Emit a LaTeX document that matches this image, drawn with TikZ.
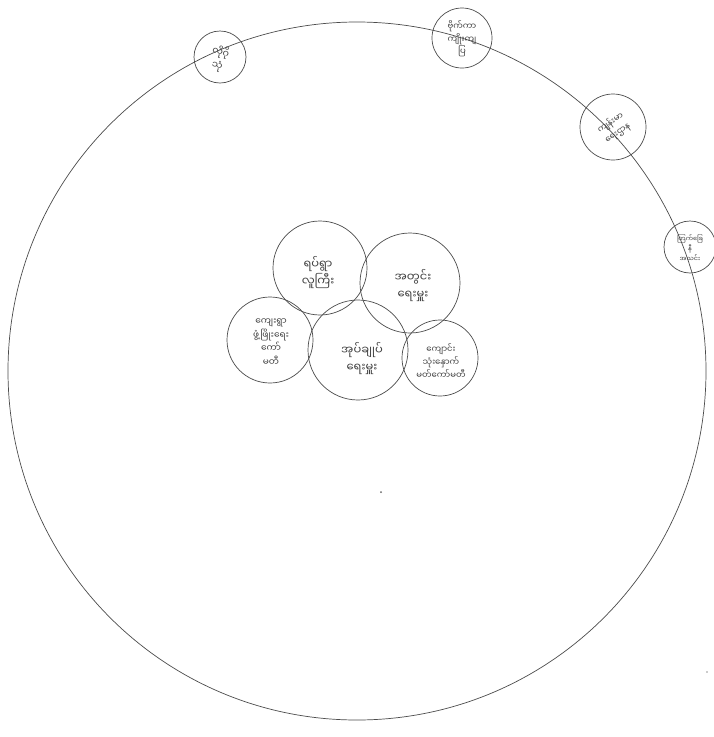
\documentclass[tikz,border=0pt]{standalone}
\usepackage{fontspec}
\newfontfamily\mmfont[Script=Myanmar]{Noto Sans Myanmar UI}
\begin{document}
\begin{tikzpicture}[x=1pt,y=-1pt,
  ring/.style={circle,draw=black!70,line width=0.7pt,inner sep=0pt},
  lbl/.style={font=\mmfont\fontsize{11.5}{17}\selectfont,text=black!75,align=center,inner sep=0pt},
  slbl/.style={font=\mmfont\fontsize{8.5}{12.5}\selectfont,text=black!75,align=center,inner sep=0pt}]
\useasboundingbox (0,0) rectangle (713,737);
\fill[white] (0,0) rectangle (713,737);
% big community circle
\node[ring,minimum size=698pt] (big) at (357,371) {};
% inner circles
\node[ring,minimum size=94pt] (ca) at (320,268) {};
\node[ring,minimum size=100pt] (cb) at (410,283) {};
\node[ring,minimum size=86pt] (cc) at (270,340) {};
\node[ring,minimum size=100pt] (cd) at (358,350) {};
\node[ring,minimum size=76pt] (ce) at (440,358) {};
\node[lbl] (ta) at (318,273) {ရပ်ရွာ\\လူကြီး};
\node[lbl] (tb) at (413,286) {အတွင်း\\ရေးမှူး};
\node[lbl,font=\mmfont\fontsize{9}{13.5}\selectfont] (tc) at (271,342) {ကျေးရွာ\\ဖွံ့ဖြိုးရေး\\ကော်\\မတီ};
\node[lbl] (td) at (362,359) {အုပ်ချုပ်\\ရေးမှူး};
\node[lbl,font=\mmfont\fontsize{8.5}{13}\selectfont] (te) at (441,361) {ကျောင်း\\သုံးနှောက်\\မတ်ကော်မတီ};
% small outer circles on the rim
\node[ring,minimum size=52pt] (sa) at (220,57) {};
\node[ring,minimum size=60pt] (sb) at (462,38) {};
\node[ring,minimum size=66pt] (sc) at (613,127) {};
\node[ring,minimum size=52pt] (sd) at (690,247) {};
\node[slbl,rotate=-15,font=\mmfont\fontsize{9.5}{14}\selectfont] (tsa) at (219,59) {လိုဂို\\သုံ};
\node[slbl] (tsb) at (462,39) {ဗိုက်ကာ\\ကျိုးကျ\\ပြ};
\node[slbl,rotate=35] (tsc) at (614,128) {ကျန်းမာ\\ရေးဌာန};
\node[slbl,font=\mmfont\fontsize{6.5}{10}\selectfont] (tsd) at (690,248) {ကြက်ခြေ\\နီ\\အသင်း};
% stray marks
\fill[black!60] (381,492) circle (1pt);
\fill[black!40] (707,672) circle (0.8pt);
\end{tikzpicture}
\end{document}
